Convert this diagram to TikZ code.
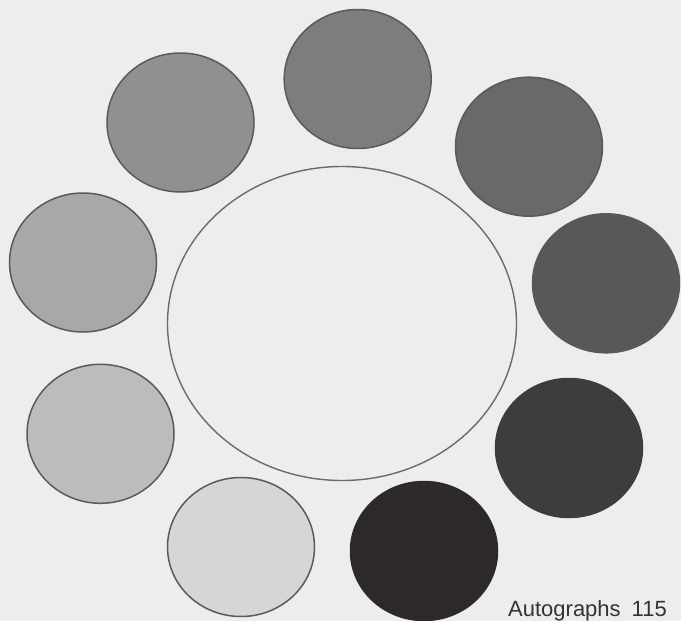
\documentclass[tikz,border=0pt]{standalone}
\usepackage{fontspec}
\setmainfont{Liberation Sans}
\usetikzlibrary{shapes.geometric}
\definecolor{bg}{HTML}{ECEEED}
\definecolor{rim}{HTML}{5A5A5A}
\definecolor{gA}{HTML}{7D7D7D}
\definecolor{gB}{HTML}{69696B}
\definecolor{gC}{HTML}{58585A}
\definecolor{gD}{HTML}{3E3C3E}
\definecolor{gE}{HTML}{2D282A}
\definecolor{gF}{HTML}{D4D6D8}
\definecolor{gG}{HTML}{BABCBE}
\definecolor{gH}{HTML}{A6A8AA}
\definecolor{gI}{HTML}{8E9092}
\definecolor{txt}{HTML}{333333}
\tikzset{
  disc/.style={ellipse, inner sep=0pt, minimum width=147pt, minimum height=139pt, line width=1.5pt},
  litdisc/.style={disc, draw=rim, fill=#1},
  darkdisc/.style={disc, draw=#1, fill=#1},
  hub/.style={ellipse, inner sep=0pt, minimum width=349pt, minimum height=314pt, draw=rim!90, line width=1.4pt, fill=bg},
  pagelabel/.style={anchor=base west, inner sep=0pt, text=txt, font=\fontsize{22}{24}\selectfont}
}
\begin{document}
\begin{tikzpicture}[x=1pt,y=-1pt]
\useasboundingbox (0,0) rectangle (681,621);
\fill[bg] (0,0) rectangle (681,621);
\node[hub] (center) at (342,323.5) {};
\node[litdisc=gA] (top) at (357.7,79) {};
\node[litdisc=gB] (ur) at (529,146.7) {};
\node[darkdisc=gC] (r) at (606,283.3) {};
\node[darkdisc=gD] (lr) at (569,448) {};
\node[darkdisc=gE] (br) at (424,551) {};
\node[litdisc=gF] (b) at (241,547) {};
\node[litdisc=gG] (ll) at (100.5,433.8) {};
\node[litdisc=gH] (l) at (83,262.5) {};
\node[litdisc=gI] (ul) at (180.5,122.5) {};
\node[pagelabel] (pg) at (508,616) {Autographs\hspace{11pt}115};
\end{tikzpicture}
\end{document}
